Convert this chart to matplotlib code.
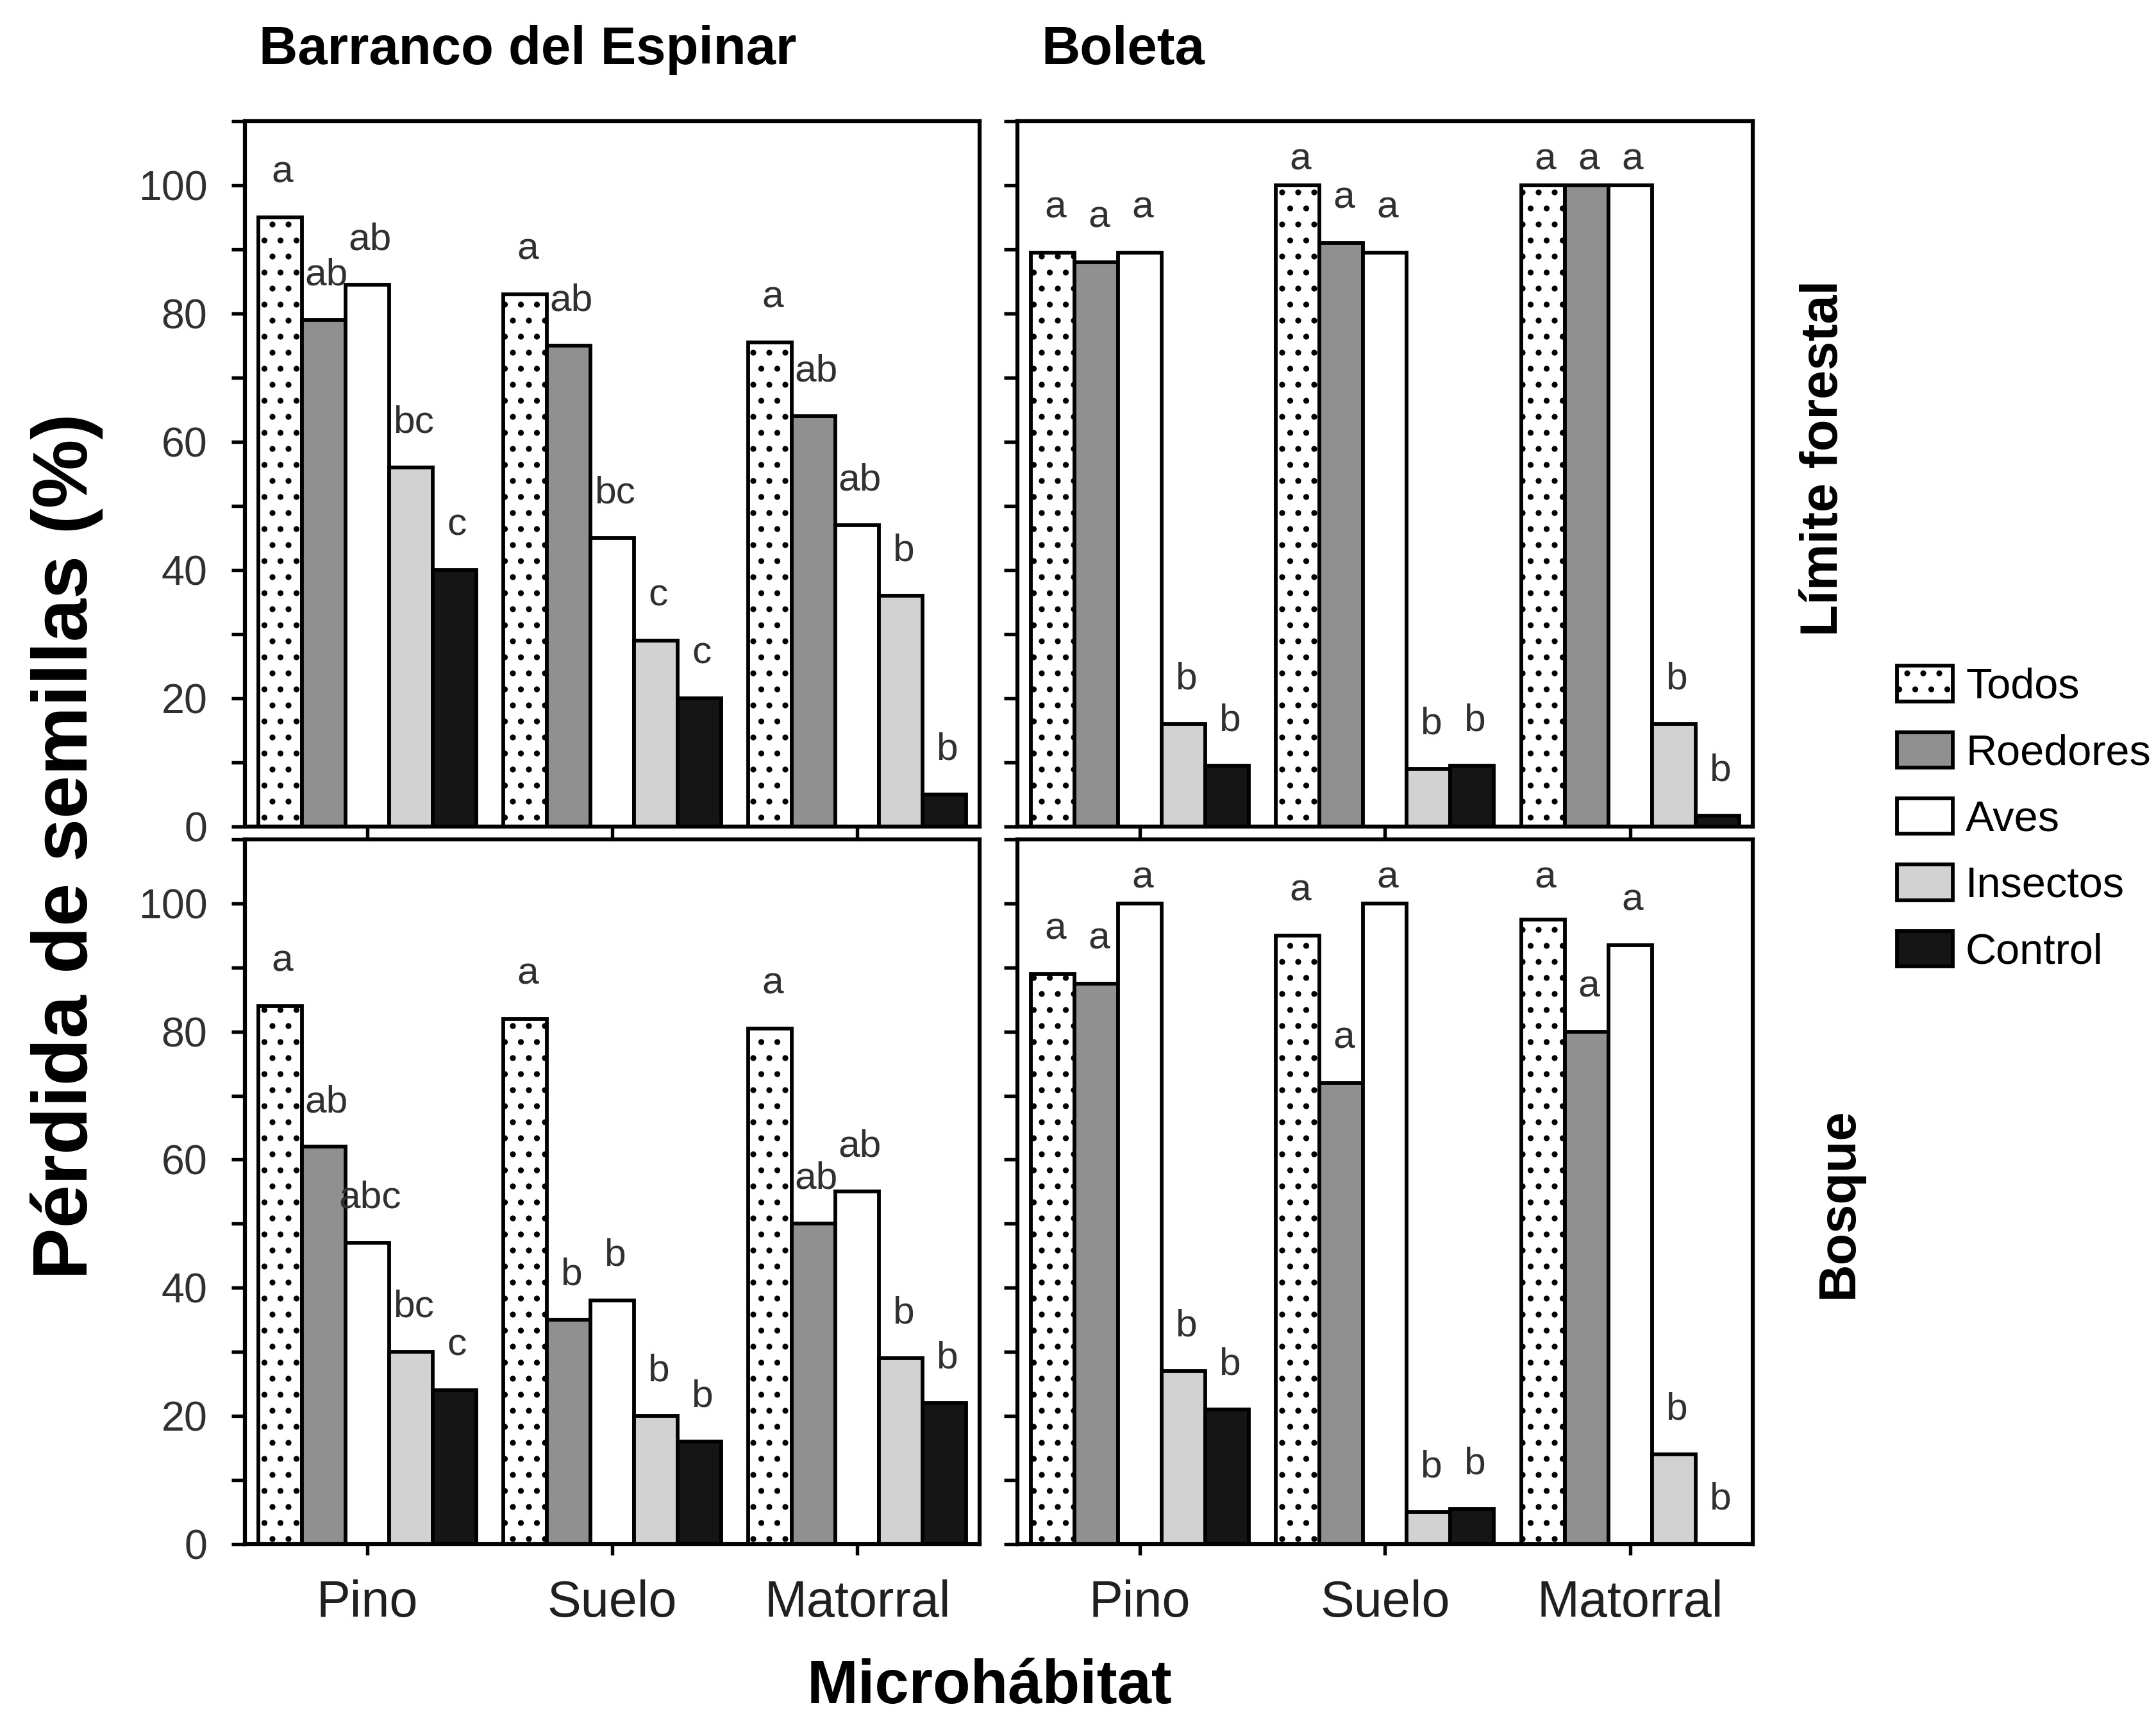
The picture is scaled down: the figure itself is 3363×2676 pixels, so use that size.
import numpy as np
import matplotlib.pyplot as plt
from matplotlib.ticker import MultipleLocator

GROUPS = ["Pino", "Suelo", "Matorral"]
SERIES = ["Todos", "Roedores", "Aves", "Insectos", "Control"]

# rows: Todos, Roedores, Aves, Insectos, Control ; cols: Pino, Suelo, Matorral
espinar_limite = [
    [95, 83, 75.5],
    [79, 75, 64],
    [84.5, 45, 47],
    [56, 29, 36],
    [40, 20, 5],
]
espinar_limite_let = [
    ["a", "a", "a"],
    ["ab", "ab", "ab"],
    ["ab", "bc", "ab"],
    ["bc", "c", "b"],
    ["c", "c", "b"],
]

boleta_limite = [
    [89.5, 100, 100],
    [88, 91, 100],
    [89.5, 89.5, 100],
    [16, 9, 16],
    [9.5, 9.5, 1.7],
]
boleta_limite_let = [
    ["a", "a", "a"],
    ["a", "a", "a"],
    ["a", "a", "a"],
    ["b", "b", "b"],
    ["b", "b", "b"],
]

espinar_bosque = [
    [84, 82, 80.5],
    [62, 35, 50],
    [47, 38, 55],
    [30, 20, 29],
    [24, 16, 22],
]
espinar_bosque_let = [
    ["a", "a", "a"],
    ["ab", "b", "ab"],
    ["abc", "b", "ab"],
    ["bc", "b", "b"],
    ["c", "b", "b"],
]

boleta_bosque = [
    [89, 95, 97.5],
    [87.5, 72, 80],
    [100, 100, 93.5],
    [27, 5, 14],
    [21, 5.5, 0],
]
boleta_bosque_let = [
    ["a", "a", "a"],
    ["a", "a", "a"],
    ["a", "a", "a"],
    ["b", "b", "b"],
    ["b", "b", "b"],
]

FILLS = ["white", "#909090", "white", "#d2d2d2", "#151515"]
HATCHES = ["..", None, None, None, None]

plt.rcParams['font.family'] = ['Liberation Sans', 'DejaVu Sans']
plt.rcParams['hatch.linewidth'] = 1.0

fig = plt.figure(figsize=(3363 / 300, 2676 / 300), dpi=300)

W = 0.341
H = 0.411
panels = [
    ([0.1135, 0.5184, W, H], espinar_limite, espinar_limite_let, True, False),
    ([0.4719, 0.5184, W, H], boleta_limite, boleta_limite_let, False, False),
    ([0.1135, 0.1000, W, H], espinar_bosque, espinar_bosque_let, True, True),
    ([0.4719, 0.1000, W, H], boleta_bosque, boleta_bosque_let, False, True),
]

bw = 0.178
x = np.arange(len(GROUPS))
handles = []
for rect, vals, lets, left, bottom in panels:
    ax = fig.add_axes(rect)
    hs = []
    for i, name in enumerate(SERIES):
        xs = x + (i - 2) * bw
        b = ax.bar(xs, vals[i], width=bw, color=FILLS[i], edgecolor="black",
                   linewidth=1.4, hatch=HATCHES[i], label=name, zorder=2)
        hs.append(b)
        for xi, v, t in zip(xs, vals[i], lets[i]):
            ax.text(xi + 0.01, min(v + 7, 104), t, ha="center", va="center",
                    fontsize=14.5, color="#303030")
    if not handles:
        handles = hs
    ax.set_xlim(-0.5, 2.5)
    ax.set_ylim(0, 110)
    ax.yaxis.set_major_locator(MultipleLocator(20))
    ax.yaxis.set_minor_locator(MultipleLocator(10))
    ax.tick_params(axis="y", which="both", direction="out", length=5, width=1.3)
    ax.tick_params(axis="y", labelsize=15.5, pad=9, labelcolor="#303030")
    ax.set_xticks(x)
    if bottom:
        ax.set_xticklabels(GROUPS)
        ax.tick_params(axis="x", direction="out", length=4, width=1.3,
                       labelsize=19, pad=9, labelcolor="#202020")
    else:
        ax.set_xticklabels([])
        ax.tick_params(axis="x", direction="out", length=4.6, width=1.3)
    if not left:
        ax.set_yticklabels([])
    for s in ax.spines.values():
        s.set_linewidth(1.5)

fig.text(0.120, 0.971, "Barranco del Espinar", fontsize=20, fontweight="bold",
         ha="left", va="center")
fig.text(0.483, 0.971, "Boleta", fontsize=20, fontweight="bold",
         ha="left", va="center")
fig.text(0.846, 0.733, "Límite forestal", fontsize=19.5, fontweight="bold",
         rotation=90, ha="center", va="center")
fig.text(0.853, 0.299, "Bosque", fontsize=19.5, fontweight="bold",
         rotation=90, ha="center", va="center")
fig.text(0.031, 0.507, "Pérdida de semillas (%)", fontsize=29, fontweight="bold",
         rotation=90, ha="center", va="center")
fig.text(0.459, 0.017, "Microhábitat", fontsize=23, fontweight="bold",
         ha="center", va="center")

fig.legend(handles=handles, labels=SERIES, loc="upper left",
           bbox_to_anchor=(0.880, 0.612), frameon=False, fontsize=16,
           handlelength=1.3, handleheight=0.9, labelspacing=0.58,
           handletextpad=0.3, borderpad=0, borderaxespad=0)

fig.savefig("out.png", dpi=300, facecolor="white")
